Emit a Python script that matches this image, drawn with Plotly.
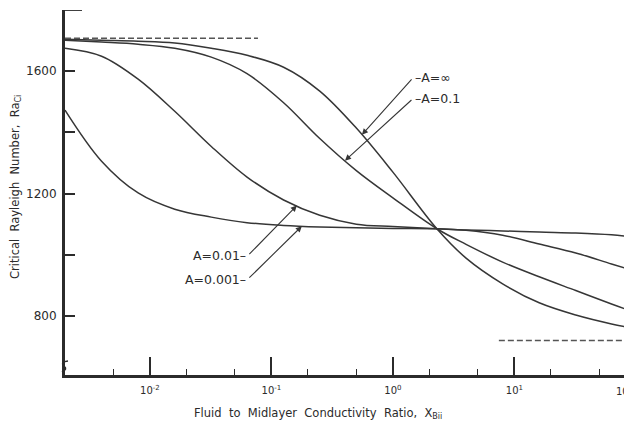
import numpy as np
import plotly.graph_objects as go

# ---------------- data ----------------
# fluid-to-midlayer conductivity ratio, sampled along the log axis
x_ratio = [0.002, 0.004, 0.008, 0.016, 0.032, 0.063, 0.126, 0.25, 0.5, 1.0,
           2.3, 4.0, 8.0, 16.0, 32.0, 63.0, 93.0]
ra_a_inf = [1704, 1701, 1698, 1692, 1675, 1652, 1613, 1535, 1414, 1270,
            1085, 989, 905, 843, 803, 774, 761]
ra_a_0_1 = [1701, 1695, 1688, 1675, 1646, 1592, 1497, 1380, 1275, 1186,
            1085, 1034, 976, 928, 883, 839, 815]
ra_a_0_01 = [1675, 1649, 1574, 1469, 1354, 1254, 1179, 1129, 1100, 1092,
             1085, 1080, 1064, 1035, 1006, 970, 950]
ra_a_0_001 = [1473, 1306, 1202, 1149, 1123, 1105, 1096, 1091, 1088, 1086,
              1085, 1081, 1078, 1074, 1071, 1065, 1058]

labels = ["A=\u221e", "A=0.1", "A=0.01", "A=0.001"]
label_x = [0.556, 0.403, 0.162, 0.178]          # where each leader touches its curve

asym_top_x = [0.002, 0.0775]
asym_top_ra = [1708, 1708]
asym_bot_x = [7.45, 100]
asym_bot_ra = [720, 720]

x_major = [0.01, 0.1, 1, 10]
x_major_text = ["10<sup>-2</sup>", "10<sup>-1</sup>", "10<sup>0</sup>", "10<sup>1</sup>"]
x_minor = [0.002, 0.005, 0.02, 0.05, 0.2, 0.5, 2, 5, 20, 50]
y_ticks = [800, 1000, 1200, 1400, 1600, 1800]
y_tick_text = ["800", "", "1200", "", "1600", ""]

# ---------------- figure ----------------
LINE = "#363636"
TXT = "#2b2b2b"
FONT = "DejaVu Sans"

fig = go.Figure()
series = [ra_a_inf, ra_a_0_1, ra_a_0_01, ra_a_0_001]
for ys in series:
    fig.add_trace(go.Scatter(x=x_ratio, y=ys, mode="lines",
                             line=dict(color=LINE, width=1.5, shape="spline", smoothing=1.0),
                             showlegend=False, hoverinfo="skip"))

for xs, ys in [(asym_top_x, asym_top_ra), (asym_bot_x, asym_bot_ra)]:
    fig.add_trace(go.Scatter(x=xs, y=ys, mode="lines",
                             line=dict(color="#555555", width=1.5, dash="6px,3px"),
                             showlegend=False, hoverinfo="skip"))

# leaders and labels
offsets = [(51, -57, "left"), (68, -62, "left"), (-49, 50, "right"), (-54, 53, "right")]
anns = []
lx = np.log10(x_ratio)
for ys, lab, xt, (ax, ay, side) in zip(series, labels, label_x, offsets):
    yt = float(np.interp(np.log10(xt), lx, ys))
    anns.append(dict(x=np.log10(xt), y=yt, xref="x", yref="y", text="", showarrow=True,
                     ax=ax, ay=ay, arrowhead=2, arrowsize=1.1, arrowwidth=1.1,
                     arrowcolor=LINE, standoff=0))
    txt = ("\u2013" + lab) if side == "left" else (lab + "\u2013")
    anns.append(dict(x=np.log10(xt), y=yt, xref="x", yref="y", text=txt, showarrow=False,
                     xshift=ax, yshift=-ay, xanchor=side, yanchor="middle",
                     font=dict(family=FONT, size=12.5, color=TXT)))

# clipped 10^2 label at the right edge
anns.append(dict(x=(614 - 65) / 567, y=0, xref="paper", yref="paper", text="10<sup>2</sup>",
                 showarrow=False, xanchor="left", yanchor="top", yshift=-8,
                 font=dict(family=FONT, size=10, color=TXT)))

# axis titles
sp = "\u00a0\u00a0"
anns.append(dict(x=(318 - 65) / 567, y=0, xref="paper", yref="paper",
                 text=f"Fluid{sp}to{sp}Midlayer{sp}Conductivity{sp}Ratio,{sp}X<sub>Bii</sub>",
                 showarrow=False, xanchor="center", yanchor="middle", yshift=-38,
                 font=dict(family=FONT, size=11.5, color=TXT)))
anns.append(dict(x=-(65 - 15) / 567, y=(375 - 187) / 365, xref="paper", yref="paper",
                 text=f"Critical{sp}Rayleigh{sp}Number,{sp}Ra<sub>Ci</sub>",
                 showarrow=False, textangle=-90, xanchor="center", yanchor="middle",
                 font=dict(family=FONT, size=11.5, color=TXT)))

shapes = [
    # long top tick
    dict(type="line", xref="paper", yref="y", xsizemode="pixel", xanchor=0,
         x0=0, x1=17, y0=1800, y1=1800, line=dict(color=TXT, width=1.8)),
    # axis break mark
    dict(type="path", xref="paper", yref="y", xsizemode="pixel", ysizemode="pixel",
         xanchor=0, yanchor=633,
         path="M 3,6 Q -5,5 -1,1 Q 3,-2 -3,-5", line=dict(color=TXT, width=1.6)),
]

# the page body adds an 8 px margin, so the figure is 8 px smaller than the window
fig.update_layout(
    width=624, height=417,
    margin=dict(l=57, r=0, t=2, b=50),
    paper_bgcolor="white", plot_bgcolor="white",
    annotations=anns, shapes=shapes,
    font=dict(family=FONT, color=TXT),
    xaxis=dict(type="log", range=[np.log10(0.002), 1.968],
               showgrid=False, zeroline=False,
               showline=True, linecolor=TXT, linewidth=3,
               tickmode="array", tickvals=x_major, ticktext=x_major_text,
               ticks="inside", ticklen=18, tickwidth=1.6, tickcolor=TXT,
               ticklabelstandoff=4,
               tickfont=dict(family=FONT, size=10, color=TXT),
               minor=dict(tickmode="array", tickvals=x_minor, ticks="inside",
                          ticklen=6, tickwidth=1.4, tickcolor=TXT, showgrid=False)),
    yaxis=dict(range=[607, 1800], showgrid=False, zeroline=False,
               showline=True, linecolor=TXT, linewidth=3,
               tickmode="array", tickvals=y_ticks, ticktext=y_tick_text,
               ticks="inside", ticklen=10, tickwidth=1.6, tickcolor=TXT,
               ticklabelstandoff=3,
               tickfont=dict(family=FONT, size=12, color=TXT)),
)

fig.write_html("out.html")
